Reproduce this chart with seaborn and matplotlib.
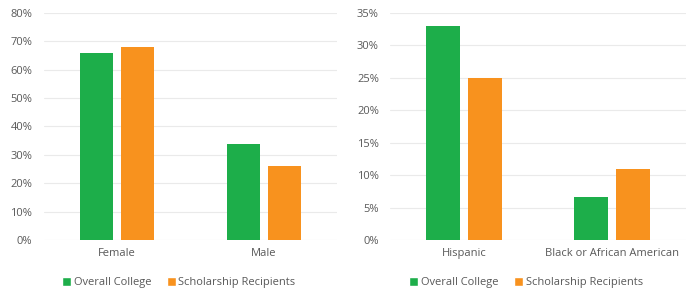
import matplotlib
matplotlib.use("Agg")
import matplotlib.pyplot as plt
import seaborn as sns
import pandas as pd
from matplotlib.ticker import PercentFormatter, MultipleLocator
from matplotlib.patches import Patch

gender_categories = ["Female", "Male"]
gender_overall = [66, 34]
gender_scholarship = [68, 26]

race_categories = ["Hispanic", "Black or African American"]
race_overall = [33, 6.6]
race_scholarship = [25, 11]

series_names = ["Overall College", "Scholarship Recipients"]
colors = ["#1DAE4A", "#F8921E"]
text_color = "#595959"

sns.set_theme(style="white")
plt.rcParams['font.family'] = ['Open Sans', 'DejaVu Sans']

fig = plt.figure(figsize=(6.9, 2.95), dpi=100)
ax1 = fig.add_axes([43.5/690, 55/295, 294/690, 227/295])
ax2 = fig.add_axes([390/690, 55/295, 296/690, 227/295])

def make_df(cats, a, b):
    rows = []
    for c, v in zip(cats, a):
        rows.append({"cat": c, "series": series_names[0], "val": v})
    for c, v in zip(cats, b):
        rows.append({"cat": c, "series": series_names[1], "val": v})
    return pd.DataFrame(rows)

def draw(ax, df, ymax, step, legx):
    sns.barplot(data=df, x="cat", y="val", hue="series", palette=colors,
                width=0.565, gap=0.2, ax=ax, legend=False, saturation=1,
                linewidth=0)
    ax.set_ylim(0, ymax)
    ax.yaxis.set_major_locator(MultipleLocator(step))
    ax.yaxis.set_major_formatter(PercentFormatter(decimals=0))
    ax.set_xlabel("")
    ax.set_ylabel("")
    ax.grid(axis="y", color="#EAEAEA", linewidth=0.8)
    ax.set_axisbelow(True)
    for s in ax.spines.values():
        s.set_visible(False)
    ax.tick_params(axis="both", length=0, labelsize=8, colors=text_color)
    ax.tick_params(axis="y", pad=8)
    ax.tick_params(axis="x", pad=6)
    handles = [Patch(facecolor=c, label=n) for c, n in zip(colors, series_names)]
    ax.legend(handles=handles, loc="upper center", bbox_to_anchor=(legx, -0.12),
              ncol=2, frameon=False, fontsize=8, handlelength=0.8, handleheight=0.8,
              handletextpad=0.25, columnspacing=1.4, labelcolor=text_color)

draw(ax1, make_df(gender_categories, gender_overall, gender_scholarship), 80, 10, 0.46)
draw(ax2, make_df(race_categories, race_overall, race_scholarship), 35, 5, 0.46)

fig.savefig("out.png", dpi=100)
